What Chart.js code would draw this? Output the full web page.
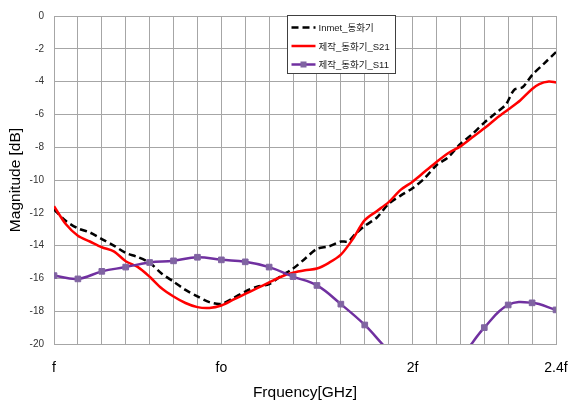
<!DOCTYPE html>
<html lang="ko">
<head>
<meta charset="utf-8">
<title>Magnitude [dB]</title>
<script src="https://cdn.jsdelivr.net/npm/chart.js@4.4.1/dist/chart.umd.min.js"></script>
<style>
    html, body { margin: 0; padding: 0; background: #ffffff; }
    #wrap { width: 577px; height: 402px; }
</style>
</head>
<body>
<div id="wrap"><canvas id="magChart" width="577" height="402"></canvas></div>
<script>
// ──────────────────────────────────────────────
//  Data (x in grid steps: f = 0, 2f = 15, 2.4f = 21)
// ──────────────────────────────────────────────
const X_TICK_POS = [0, 7, 15, 21];
const X_TICK_TEXT = ['f', 'fo', '2f', '2.4f'];
const Y_TICKS = [0, -2, -4, -6, -8, -10, -12, -14, -16, -18, -20];

const SERIES_NAMES = ['Inmet_동화기', '제작_동화기_S21', '제작_동화기_S11'];

// Inmet (black dashed)
const inmetX = [0, 0.5, 1, 1.5, 2, 2.5, 3, 3.5, 4, 4.5, 5, 5.5, 6, 6.5, 7, 7.5, 8, 8.5,
    9, 9.5, 10, 10.5, 11, 11.5, 12, 12.3, 12.6, 13, 13.5, 14, 14.5, 15, 15.5, 16,
    16.5, 17, 17.5, 18, 18.5, 18.9, 19.25, 19.6, 20, 20.5, 21];
const inmetY = [-11.8, -12.5, -12.95, -13.2, -13.6, -14.0, -14.45, -14.7, -15.05, -15.7,
    -16.2, -16.7, -17.1, -17.45, -17.55, -17.2, -16.8, -16.5, -16.35, -15.85, -15.4,
    -14.8, -14.2, -14.05, -13.75, -13.75, -13.3, -12.8, -12.3, -11.45, -10.95, -10.5,
    -9.9, -9.1, -8.6, -7.8, -7.2, -6.5, -5.9, -5.4, -4.5, -4.35, -3.6, -2.9, -2.2];

// S21 (red)
const s21X = [0, 0.5, 1, 1.5, 2, 2.5, 3, 3.5, 4, 4.5, 5, 5.5, 6, 6.5, 7, 7.5, 8, 8.5,
    9, 9.5, 10, 10.5, 11, 11.5, 12, 12.5, 13, 13.5, 14, 14.5, 15, 15.5, 16, 16.5,
    17, 17.5, 18, 18.5, 19, 19.5, 20, 20.3, 20.7, 21];
const s21Y = [-11.6, -12.7, -13.4, -13.75, -14.1, -14.35, -14.95, -15.3, -15.9, -16.6,
    -17.1, -17.5, -17.75, -17.8, -17.65, -17.3, -16.95, -16.6, -16.25, -15.9, -15.65,
    -15.5, -15.4, -15.05, -14.55, -13.6, -12.45, -11.9, -11.35, -10.6, -10.1, -9.5,
    -8.9, -8.35, -7.95, -7.4, -6.85, -6.25, -5.7, -5.15, -4.45, -4.15, -4.0, -4.05];

// S11 (purple, one marker per grid step)
const s11X = [0, 1, 2, 3, 4, 5, 6, 7, 8, 9, 10, 11, 12, 13, 14, 15, 16, 17, 18, 19, 20, 21];
const s11Y = [-15.83, -16.03, -15.57, -15.31, -15.03, -14.93, -14.71, -14.87, -14.99,
    -15.31, -15.89, -16.43, -17.57, -18.84, -20.4, -21.6, -21.9, -20.8, -19.0, -17.62,
    -17.49, -17.92];

// ──────────────────────────────────────────────
//  Helpers
// ──────────────────────────────────────────────
function toPoints(xs, ys) {
    return xs.map((x, i) => ({ x: x, y: ys[i] }));
}

const GRID_COLOR = '#a6a6a6';
const LATIN_FONT = '"Liberation Sans", Arial, "Noto Sans CJK KR", sans-serif';

// Legend drawn inside the plot area, like the original
const insideLegend = {
    id: 'insideLegend',
    afterDraw(chart) {
        const ctx = chart.ctx;
        const box = { x: 287.5, y: 15.5, w: 108, h: 58 };
        ctx.save();
        ctx.fillStyle = '#ffffff';
        ctx.fillRect(box.x, box.y, box.w, box.h);
        ctx.strokeStyle = '#404040';
        ctx.lineWidth = 1;
        ctx.strokeRect(box.x, box.y, box.w, box.h);

        ctx.font = '9.5px ' + LATIN_FONT;
        ctx.textBaseline = 'middle';
        ctx.textAlign = 'left';

        chart.data.datasets.forEach((ds, i) => {
            const y = box.y + 12 + i * 18.5;
            ctx.beginPath();
            ctx.strokeStyle = ds.borderColor;
            ctx.lineWidth = ds.borderWidth;
            ctx.setLineDash(ds.borderDash || []);
            ctx.moveTo(box.x + 4, y);
            ctx.lineTo(box.x + 28, y);
            ctx.stroke();
            ctx.setLineDash([]);
            if (ds.pointRadius > 0) {
                ctx.fillStyle = ds.pointBackgroundColor;
                ctx.fillRect(box.x + 16 - 3, y - 3, 6, 6);
            }
            ctx.fillStyle = '#1a1a1a';
            ctx.fillText(ds.label, box.x + 31, y + 1);
        });
        ctx.restore();
    }
};

// ──────────────────────────────────────────────
//  Chart
// ──────────────────────────────────────────────
const ctx = document.getElementById('magChart').getContext('2d');

new Chart(ctx, {
    type: 'line',
    data: {
        datasets: [
            {
                label: SERIES_NAMES[0],
                data: toPoints(inmetX, inmetY),
                borderColor: '#000000',
                borderWidth: 2.5,
                borderDash: [7, 4],
                pointRadius: 0,
                tension: 0.3,
                order: 3,
            },
            {
                label: SERIES_NAMES[1],
                data: toPoints(s21X, s21Y),
                borderColor: '#ff0000',
                borderWidth: 2.5,
                pointRadius: 0,
                tension: 0.3,
                order: 2,
            },
            {
                label: SERIES_NAMES[2],
                data: toPoints(s11X, s11Y),
                borderColor: '#7030a0',
                borderWidth: 2.5,
                pointStyle: 'rect',
                pointRadius: 4,
                pointBackgroundColor: '#8064a2',
                pointBorderColor: '#8064a2',
                pointBorderWidth: 1,
                tension: 0.4,
                order: 1,
            },
        ]
    },
    options: {
        responsive: false,
        animation: false,
        events: [],
        layout: {
            padding: { left: 4, top: 10, right: 21, bottom: 0 }
        },
        plugins: {
            legend: { display: false },
            tooltip: { enabled: false },
        },
        scales: {
            x: {
                type: 'linear',
                min: 0,
                max: 21,
                afterBuildTicks: (scale) => {
                    const ticks = [];
                    for (let v = 0; v <= 21; v++) ticks.push({ value: v });
                    scale.ticks = ticks;
                },
                afterFit: (scale) => {
                    scale.height = 58;
                    // let the outer layout padding alone decide the plot edges
                    scale.paddingLeft = 0;
                    scale.paddingRight = 0;
                },
                grid: { color: GRID_COLOR, drawTicks: false },
                border: { color: GRID_COLOR },
                ticks: {
                    autoSkip: false,
                    maxRotation: 0,
                    padding: 16,
                    color: '#000000',
                    font: { family: LATIN_FONT, size: 14 },
                    callback: (v) => {
                        const k = X_TICK_POS.indexOf(v);
                        return k >= 0 ? X_TICK_TEXT[k] : '';
                    }
                },
                title: {
                    display: true,
                    text: 'Frquency[GHz]',
                    color: '#000000',
                    font: { family: LATIN_FONT, size: 15.5 },
                    padding: { top: 0, bottom: 0 },
                }
            },
            y: {
                min: -20,
                max: 0,
                afterBuildTicks: (scale) => {
                    scale.ticks = Y_TICKS.map(v => ({ value: v }));
                },
                afterFit: (scale) => { scale.width = 50; },
                grid: { color: GRID_COLOR, drawTicks: false },
                border: { color: GRID_COLOR },
                ticks: {
                    padding: 10,
                    color: '#333333',
                    font: { family: LATIN_FONT, size: 10 },
                },
                title: {
                    display: true,
                    text: 'Magnitude [dB]',
                    color: '#000000',
                    font: { family: LATIN_FONT, size: 15.5 },
                    padding: { top: 2, bottom: 0 },
                }
            }
        }
    },
    plugins: [insideLegend]
});
</script>
</body>
</html>
